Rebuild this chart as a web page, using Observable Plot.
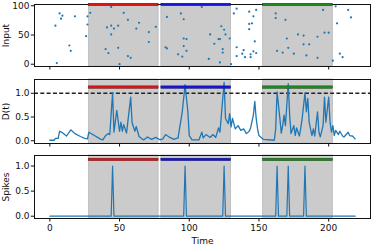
<!DOCTYPE html>
<html><head><meta charset="utf-8">
<script src="https://cdn.jsdelivr.net/npm/d3@7"></script>
<script src="https://cdn.jsdelivr.net/npm/@observablehq/plot@0.6"></script>
<style>
body{margin:0;background:#fff;}
#chart{position:relative;width:376px;height:246px;overflow:hidden;}
#chart svg{position:absolute;left:0;}
</style></head><body><div id="chart"></div>
<script>
// ---- data ----
const inputTimes = [4,5,7,8,9,14,15,18,26,27,27,29,
  40,41,42,44,44,44,46,49,49,50,53,56,56,58,62,64,71,71,76,
  83,84,84,92,94,95,96,96,96,98,98,109,114,115,118,121,122,122,123,124,124,125,126,129,130,
  132,134,134,134,138,139,140,143,143,143,144,144,145,146,146,147,148,148,
  162,162,163,167,169,170,171,175,178,182,182,184,186,192,192,196,197,200,203,
  205,206,208,210,214,216];
const inputValues = [66,2,87,78,83,32,23,82,48,82,68,88,
  26,63,19,98,66,51,61,66,28,0,88,76,14,11,61,71,55,38,64,
  29,27,81,17,87,13,77,44,31,43,23,98,9,51,35,43,43,3,65,26,20,59,51,44,0,
  87,95,29,14,18,24,12,60,90,69,17,12,70,82,22,39,19,93,
  87,79,23,20,76,44,28,18,51,49,34,15,34,47,11,93,54,54,6,
  99,70,18,12,93,80];

const dTimes = [0,3,4,6,7,9,12,15,18,22,25,27,28,32,36,38,40,42,43,45,46,48,50,51,52,53,55,58,59,61,62,64,67,
  68,70,73,76,79,81,83,86,89,92,93,95,97,99,100,102,107,109,110,112,115,117,119,121,122,125,126,128,129,130,131,133,135,137,139,141,143,144,146,147,148,149,150,153,
  161,162,163,165,166,167,168,169,171,172,173,175,176,177,179,180,181,183,184,185,186,188,189,190,192,193,194,196,197,198,200,201,202,203,204,205,207,208,210,211,214,215,217,219];
const dValues = [0.01,0.01,0.05,0.05,0.2,0.17,0.1,0.23,0.15,0.09,0.05,0.04,0.18,0.11,0.04,0.02,0.11,0.15,0.13,1.01,0.18,0.64,0.2,0.39,0.2,0.34,0.16,0.92,0.38,0.2,0.3,0.09,0.02,
  0.03,0.08,0.03,0.07,0.02,0.04,0.13,0.07,0.03,0.06,0.25,0.61,1.18,0.61,0.11,0.02,0.02,0.18,0.06,0.13,0.07,0.13,0.07,0.27,0.18,1.23,0.47,0.36,0.57,0.29,0.47,0.25,0.32,0.22,0.25,0.15,0.2,0.27,0.54,0.83,0.47,0.25,0.11,0.03,
  0.01,0.25,1.03,0.47,0.16,0.32,0.54,0.32,1.2,0.54,0.15,0.32,0.11,0.27,0.1,0.27,0.47,1.01,0.61,0.89,0.39,0.11,0.25,0.1,0.61,0.18,0.08,0.32,0.92,0.39,0.92,0.39,0.18,0.32,0.11,0.22,0.13,0.2,0.1,0.08,0.18,0.11,0.1,0.04];

const spikeTimes = [45,97,125,163,171,183];
const nSteps = 220;

const regionStart = [28,80,153];
const regionEnd = [78,130,203];
const regionColor = ["#dd1515","#1515dd","#1f8a1f"];
const regionEdge = ["#6a0a0a","#0a0a6a","#0c400c"];

const xTicks = [0,50,100,150,200];
const inputTicks = [0,50,100];
const unitTicks = [0,0.5,1];

// ---- build ----
const regions = regionStart.map((s,i)=>({s, e: regionEnd[i], c: regionColor[i], k: regionEdge[i]}));
const inputData = inputTimes.map((t,i)=>({t, v: inputValues[i]}));
const dData = dTimes.map((t,i)=>({t, v: dValues[i]}));
const spikeData = d3.range(nSteps).map(t=>({t, v: spikeTimes.includes(t) ? 1 : 0}));

const blue = "#1f77b4";
const font = "'DejaVu Sans', sans-serif";
const common = {
  width: 376, marginLeft: 34, marginRight: 6,
  x: {domain: [-11, 230]},
  style: {fontFamily: font, fontSize: "9px", color: "#111", background: "transparent", overflow: "visible"}
};

function panel({top, height, marginTop, marginBottom, ydomain, yticks, yfmt, ylabel, barLo, barHi, xlabels, marks}) {
  const svg = Plot.plot({
    ...common, height, marginTop, marginBottom,
    y: {domain: ydomain},
    marks: [
      Plot.rect(regions, {x1: "s", x2: "e", fill: "#cbcbcb", stroke: "#b8b8b8", strokeWidth: 0.8}),
      ...marks,
      Plot.frame({stroke: "#111", strokeWidth: 1}),
      Plot.rect(regions, {x1: "s", x2: "e", y1: barLo, y2: barHi, fill: d => d.c, stroke: d => d.k, strokeWidth: 0.5}),
      Plot.axisX({ticks: xTicks, tickSize: 3.5, tickPadding: 3, tickFormat: xlabels ? d3.format("d") : () => "",
        label: xlabels ? "Time" : null, labelAnchor: "center", labelOffset: 25, labelArrow: "none"}),
      Plot.axisY({ticks: yticks, tickSize: 3.2, tickPadding: 1.8, tickFormat: yfmt,
        label: ylabel, labelAnchor: "center", labelOffset: 32, labelArrow: "none"})
    ]
  });
  svg.style.top = top + "px";
  document.getElementById("chart").appendChild(svg);
}

panel({top: 0, height: 72, marginTop: 4, marginBottom: 6, ydomain: [-3.9, 102.2], yticks: inputTicks, yfmt: d3.format("d"),
  ylabel: "Input", barLo: 99.4, barHi: 103.5, xlabels: false,
  marks: [Plot.dot(inputData, {x: "t", y: "v", r: 1.1, fill: blue, stroke: null})]});

panel({top: 72, height: 76, marginTop: 7, marginBottom: 5, ydomain: [-0.058, 1.29], yticks: unitTicks, yfmt: d3.format(".1f"),
  ylabel: "D(t)", barLo: 1.095, barHi: 1.145, xlabels: false,
  marks: [
    Plot.ruleY([1], {stroke: "#222", strokeWidth: 1.4, strokeDasharray: "4,2.3"}),
    Plot.line(dData, {x: "t", y: "v", stroke: blue, strokeWidth: 1.3})
  ]});

panel({top: 148, height: 98, marginTop: 7, marginBottom: 28, ydomain: [-0.046, 1.21], yticks: unitTicks, yfmt: d3.format(".1f"),
  ylabel: "Spikes", barLo: 1.098, barHi: 1.146, xlabels: true,
  marks: [Plot.line(spikeData, {x: "t", y: "v", stroke: blue, strokeWidth: 1.2})]});
</script>
</body></html>
